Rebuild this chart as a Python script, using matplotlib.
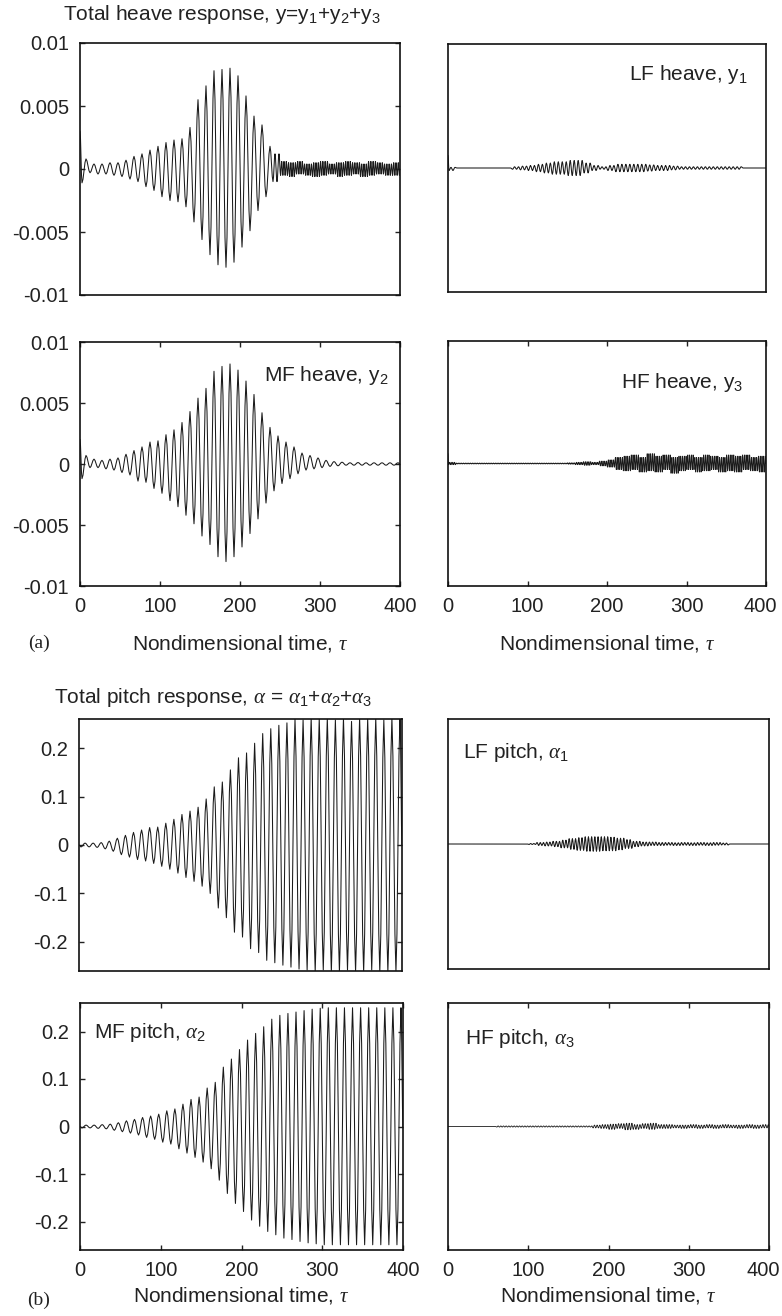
import numpy as np
import matplotlib
matplotlib.use("Agg")
import matplotlib.pyplot as plt
from matplotlib.transforms import ScaledTranslation

plt.rcParams["font.family"] = ["Liberation Sans", "DejaVu Sans"]
plt.rcParams["mathtext.fontset"] = "custom"
plt.rcParams["mathtext.rm"] = "Liberation Sans"
plt.rcParams["mathtext.it"] = "Liberation Serif:italic"
plt.rcParams["mathtext.bf"] = "Liberation Sans:bold"
plt.rcParams["axes.unicode_minus"] = False

# ---- data: peak values read per 10-unit window of tau (40 windows, 0..400) ----
# each signal: value at tau=0, upper peaks, lower peaks, extrema per window
x_ticks = [0, 100, 200, 300, 400]
x_ticklabels = ["0", "100", "200", "300", "400"]
heave_ticks = [-0.01, -0.005, 0, 0.005, 0.01]
heave_ticklabels = ["-0.01", "-0.005", "0", "0.005", "0.01"]
pitch_ticks = [-0.2, -0.1, 0, 0.1, 0.2]
pitch_ticklabels = ["-0.2", "-0.1", "0", "0.1", "0.2"]

# total heave y
th_start = 0.003
th_hi = [0.0008, 0.0004, 0.0004, 0.0005, 0.0005, 0.0007, 0.0010, 0.0012, 0.0015, 0.0018,
         0.0021, 0.0023, 0.0024, 0.0033, 0.0055, 0.0066, 0.0078, 0.0079, 0.0080, 0.0074,
         0.0058, 0.0042, 0.0035, 0.0018, 0.0012, 0.0006, 0.0005, 0.0006, 0.0004, 0.0005,
         0.0006, 0.0004, 0.0005, 0.0006, 0.0005, 0.0004, 0.0006, 0.0005, 0.0004, 0.0005]
th_lo = [-0.0011, -0.0003, -0.0004, -0.0004, -0.0005, -0.0006, -0.0008, -0.0010, -0.0014, -0.0017,
         -0.0022, -0.0025, -0.0026, -0.0030, -0.0042, -0.0056, -0.0068, -0.0076, -0.0078, -0.0074,
         -0.0062, -0.0049, -0.0033, -0.0022, -0.0010, -0.0005, -0.0006, -0.0004, -0.0005, -0.0006,
         -0.0005, -0.0004, -0.0006, -0.0005, -0.0004, -0.0006, -0.0005, -0.0004, -0.0005, -0.0005]
th_n = [2] * 24 + [4] + [7] * 15

# LF heave y1
lh_start = 0.001
lh_hi = [0.00005, 0, 0, 0, 0, 0, 0, 0, 0.0001, 0.00015,
         0.0002, 0.0003, 0.0004, 0.0005, 0.0005, 0.0006, 0.0006, 0.0004, 0.0002, 0.0001,
         0.0002, 0.0003, 0.0003, 0.0003, 0.0003, 0.00025, 0.0002, 0.0002, 0.00015, 0.0001,
         0.0001, 0.0001, 0.0001, 0.0001, 0.0001, 0.0001, 0.0001, 0, 0, 0]
lh_lo = [-0.0002, 0, 0, 0, 0, 0, 0, 0, -0.0001, -0.00015,
         -0.0002, -0.0003, -0.0004, -0.0005, -0.0005, -0.0006, -0.0006, -0.0004, -0.0002, -0.0001,
         -0.0002, -0.0003, -0.0003, -0.0003, -0.0003, -0.00025, -0.0002, -0.0002, -0.00015, -0.0001,
         -0.0001, -0.0001, -0.0001, -0.0001, -0.0001, -0.0001, -0.0001, 0, 0, 0]
lh_n = [4] * 40

# MF heave y2
mh_start = 0.002
mh_hi = [0.0007, 0.0004, 0.0003, 0.0004, 0.0005, 0.0008, 0.0011, 0.0014, 0.0018, 0.0019,
         0.0024, 0.0028, 0.0034, 0.0043, 0.0054, 0.0062, 0.0076, 0.0080, 0.0082, 0.0077,
         0.0068, 0.0057, 0.0042, 0.0030, 0.0023, 0.0018, 0.0014, 0.0009, 0.0007, 0.0005,
         0.0003, 0.0002, 0.00015, 0.0001, 0.00012, 0.0001, 0.0001, 0.0001, 0.0001, 0.0001]
mh_lo = [-0.0012, -0.0003, -0.0003, -0.0004, -0.0005, -0.0007, -0.0009, -0.0014, -0.0015, -0.0020,
         -0.0024, -0.0030, -0.0035, -0.0042, -0.0049, -0.0059, -0.0066, -0.0076, -0.0080, -0.0076,
         -0.0068, -0.0057, -0.0045, -0.0032, -0.0022, -0.0016, -0.0012, -0.0008, -0.0005, -0.0004,
         -0.0003, -0.0002, -0.00015, -0.0001, -0.0001, -0.0001, -0.0001, -0.0001, -0.0001, -0.0001]
mh_n = [2] * 40

# HF heave y3
hh_start = 0.0008
hh_hi = [0.0001, 0.00004, 0.00004, 0.00004, 0.00004, 0.00004, 0.00004, 0.00004, 0.00004, 0.00004,
         0.00004, 0.00004, 0.00004, 0.00004, 0.00004, 0.00006, 0.0001, 0.00015, 0.0001, 0.0002,
         0.0003, 0.0005, 0.0006, 0.0007, 0.0005, 0.0008, 0.0006, 0.0007, 0.0005, 0.0006,
         0.0007, 0.0005, 0.0007, 0.0006, 0.0005, 0.0007, 0.0006, 0.0007, 0.0005, 0.0006]
hh_lo = [-0.0001, -0.00004, -0.00004, -0.00004, -0.00004, -0.00004, -0.00004, -0.00004, -0.00004, -0.00004,
         -0.00004, -0.00004, -0.00004, -0.00004, -0.00004, -0.00006, -0.0001, -0.00015, -0.0001, -0.0002,
         -0.0003, -0.0005, -0.0006, -0.0005, -0.0007, -0.0006, -0.0007, -0.0005, -0.0008, -0.0006,
         -0.0005, -0.0007, -0.0006, -0.0005, -0.0007, -0.0006, -0.0007, -0.0005, -0.0006, -0.0007]
hh_n = [9] * 40

# total pitch alpha
tp_start = 0.0
tp_hi = [0.004, 0.004, 0.005, 0.008, 0.014, 0.020, 0.026, 0.031, 0.036, 0.037,
         0.045, 0.053, 0.063, 0.070, 0.078, 0.095, 0.120, 0.130, 0.155, 0.180,
         0.190, 0.210, 0.230, 0.240, 0.247, 0.252, 0.260, 0.258, 0.262, 0.260,
         0.262, 0.258, 0.262, 0.255, 0.262, 0.260, 0.262, 0.258, 0.262, 0.262]
tp_lo = [-0.004, -0.004, -0.005, -0.008, -0.013, -0.020, -0.025, -0.030, -0.033, -0.038,
         -0.044, -0.050, -0.058, -0.067, -0.075, -0.085, -0.100, -0.130, -0.150, -0.180,
         -0.190, -0.214, -0.222, -0.238, -0.243, -0.248, -0.252, -0.256, -0.258, -0.262,
         -0.258, -0.262, -0.262, -0.258, -0.262, -0.262, -0.258, -0.262, -0.262, -0.262]
tp_n = [2] * 40

# LF pitch alpha1
lp_start = 0.0
lp_hi = [0, 0, 0, 0, 0, 0, 0, 0, 0, 0,
         0.001, 0.003, 0.004, 0.0055, 0.008, 0.011, 0.013, 0.015, 0.015, 0.015,
         0.014, 0.012, 0.009, 0.0055, 0.004, 0.004, 0.003, 0.003, 0.0025, 0.003,
         0.0025, 0.003, 0.0025, 0.003, 0.002, 0, 0, 0, 0, 0]
lp_lo = [0, 0, 0, 0, 0, 0, 0, 0, 0, 0,
         -0.001, -0.003, -0.004, -0.0055, -0.008, -0.011, -0.013, -0.015, -0.015, -0.014,
         -0.014, -0.012, -0.009, -0.0055, -0.004, -0.003, -0.003, -0.0025, -0.003, -0.0025,
         -0.003, -0.0025, -0.003, -0.0025, -0.002, 0, 0, 0, 0, 0]
lp_n = [5] * 40

# MF pitch alpha2
mp_start = 0.0
mp_hi = [0.003, 0.003, 0.004, 0.005, 0.008, 0.012, 0.015, 0.019, 0.022, 0.026,
         0.033, 0.037, 0.047, 0.057, 0.062, 0.081, 0.093, 0.125, 0.142, 0.162,
         0.182, 0.196, 0.210, 0.226, 0.234, 0.238, 0.241, 0.244, 0.247, 0.249,
         0.250, 0.250, 0.250, 0.250, 0.250, 0.250, 0.250, 0.250, 0.250, 0.250]
mp_lo = [-0.003, -0.003, -0.004, -0.005, -0.008, -0.011, -0.014, -0.018, -0.023, -0.027,
         -0.033, -0.037, -0.047, -0.056, -0.065, -0.075, -0.089, -0.113, -0.141, -0.162,
         -0.179, -0.197, -0.210, -0.221, -0.228, -0.235, -0.238, -0.242, -0.245, -0.247,
         -0.249, -0.249, -0.249, -0.249, -0.249, -0.249, -0.249, -0.249, -0.249, -0.249]
mp_n = [2] * 40

# HF pitch alpha3
hp_start = 0.0
hp_hi = [0, 0, 0, 0, 0, 0, 0.0012, 0.0012, 0.0012, 0.0012,
         0.0012, 0.0012, 0.0012, 0.0012, 0.0012, 0.0012, 0.0012, 0.0012, 0.003, 0.004,
         0.005, 0.006, 0.007, 0.004, 0.006, 0.007, 0.004, 0.004, 0.003, 0.003,
         0.004, 0.003, 0.004, 0.003, 0.004, 0.003, 0.003, 0.004, 0.003, 0.004]
hp_lo = [0, 0, 0, 0, 0, 0, -0.0012, -0.0012, -0.0012, -0.0012,
         -0.0012, -0.0012, -0.0012, -0.0012, -0.0012, -0.0012, -0.0012, -0.0012, -0.003, -0.004,
         -0.006, -0.004, -0.007, -0.006, -0.004, -0.006, -0.004, -0.004, -0.003, -0.004,
         -0.003, -0.004, -0.003, -0.004, -0.003, -0.003, -0.004, -0.003, -0.004, -0.003]
hp_n = [6] * 40

WIN = 10.0
T_END = 400.0
# stroke shape between neighbouring extrema: (time fraction, swing fraction)
STROKE = [(0.25, 0.15), (0.75, 0.85)]


def zigzag(start, hi, lo, n_ext):
    """Line through alternating extrema, n_ext[k] extrema inside window k."""
    t, y = [0.0], [start]
    sign = -1
    for k, (h, l) in enumerate(zip(hi, lo)):
        n = n_ext[k]
        for j in range(n):
            t.append(WIN * k + (j + 0.5) * WIN / n)
            y.append(h if sign > 0 else l)
            sign = -sign
    t.append(T_END)
    y.append(0.0)

    tt, yy = [t[0]], [y[0]]
    for i in range(len(t) - 1):
        for ft, fy in STROKE:
            tt.append(t[i] + ft * (t[i + 1] - t[i]))
            yy.append(y[i] + fy * (y[i + 1] - y[i]))
        tt.append(t[i + 1])
        yy.append(y[i + 1])
    return np.array(tt), np.array(yy)


W, H = 782, 1316
fig = plt.figure(figsize=(W / 100, H / 100), dpi=100)
TXT = "#222222"
LINE = "#1a1a1a"


def box(left, right, top, bottom):
    return [left / W, 1 - bottom / H, (right - left) / W, (bottom - top) / H]


def panel(rect, series, ylim, yticks, yticklabels, show_x, show_y, lw=0.75):
    ax = fig.add_axes(rect)
    t, y = zigzag(*series)
    ax.plot(t, y, color=LINE, lw=lw)
    ax.set_xlim(0, 400)
    ax.set_ylim(*ylim)
    for s in ax.spines.values():
        s.set_linewidth(1.2)
        s.set_color("#111111")
    ax.tick_params(direction="in", length=3.5, width=1.0, labelsize=14.5,
                   colors=TXT, pad=8)
    if show_x:
        ax.set_xticks(x_ticks)
        ax.set_xticklabels(x_ticklabels)
        ax.tick_params(axis="x", top=True, bottom=True)
    else:
        ax.set_xticks([])
    if show_y:
        ax.set_yticks(yticks)
        ax.set_yticklabels(yticklabels)
        ax.tick_params(axis="y", left=True, right=True)
    else:
        ax.set_yticks([])
    return ax


hl = (-0.01, 0.01)
pl = (-0.26, 0.26)
panel(box(80, 400, 43, 295), (th_start, th_hi, th_lo, th_n), hl, heave_ticks, heave_ticklabels, False, True)
panel(box(448, 766, 44, 292), (lh_start, lh_hi, lh_lo, lh_n), hl, heave_ticks, heave_ticklabels, False, False)
panel(box(80, 400, 342, 586), (mh_start, mh_hi, mh_lo, mh_n), hl, heave_ticks, heave_ticklabels, True, True)
ax_hh = panel(box(448, 766, 341, 586), (hh_start, hh_hi, hh_lo, hh_n), hl, heave_ticks, heave_ticklabels,
              True, False, lw=0.6)
panel(box(79, 402, 719, 971), (tp_start, tp_hi, tp_lo, tp_n), pl, pitch_ticks, pitch_ticklabels, False, True)
panel(box(448, 769, 719, 969), (lp_start, lp_hi, lp_lo, lp_n), pl, pitch_ticks, pitch_ticklabels, False, False)
panel(box(80, 403, 1003, 1250), (mp_start, mp_hi, mp_lo, mp_n), pl, pitch_ticks, pitch_ticklabels, True, True)
ax_hp = panel(box(448, 769, 1003, 1250), (hp_start, hp_hi, hp_lo, hp_n), pl, pitch_ticks, pitch_ticklabels,
              True, False, lw=0.6)

# keep the right-most "400" inside the canvas
for ax in (ax_hh, ax_hp):
    lab = ax.get_xticklabels()[-1]
    lab.set_transform(lab.get_transform() + ScaledTranslation(-6 / 100, 0, fig.dpi_scale_trans))


def ftext(x, y, s, **kw):
    kw.setdefault("fontsize", 15)
    kw.setdefault("color", TXT)
    kw.setdefault("va", "center")
    fig.text(x / W, 1 - y / H, s, **kw)


ftext(222, 15, "Total heave response, y=y$_1$+y$_2$+y$_3$", ha="center")
ftext(213, 698, r"Total pitch response, $\alpha$ = $\alpha_1$+$\alpha_2$+$\alpha_3$", ha="center")

ftext(748, 75, "LF heave, y$_1$", ha="right")
ftext(388, 375, "MF heave, y$_2$", ha="right")
ftext(743, 382, "HF heave, y$_3$", ha="right")
ftext(463, 752, r"LF pitch, $\alpha_1$", ha="left")
ftext(94, 1032, r"MF pitch, $\alpha_2$", ha="left")
ftext(465, 1038, r"HF pitch, $\alpha_3$", ha="left")

ftext(240, 643, r"Nondimensional time, $\tau$", ha="center")
ftext(607, 643, r"Nondimensional time, $\tau$", ha="center")
ftext(241, 1295, r"Nondimensional time, $\tau$", ha="center")
ftext(608, 1295, r"Nondimensional time, $\tau$", ha="center")

ftext(39, 643, "(a)", ha="center", family="Liberation Serif", fontsize=14)
ftext(39, 1300, "(b)", ha="center", family="Liberation Serif", fontsize=14)

fig.savefig("out.png", dpi=100)
